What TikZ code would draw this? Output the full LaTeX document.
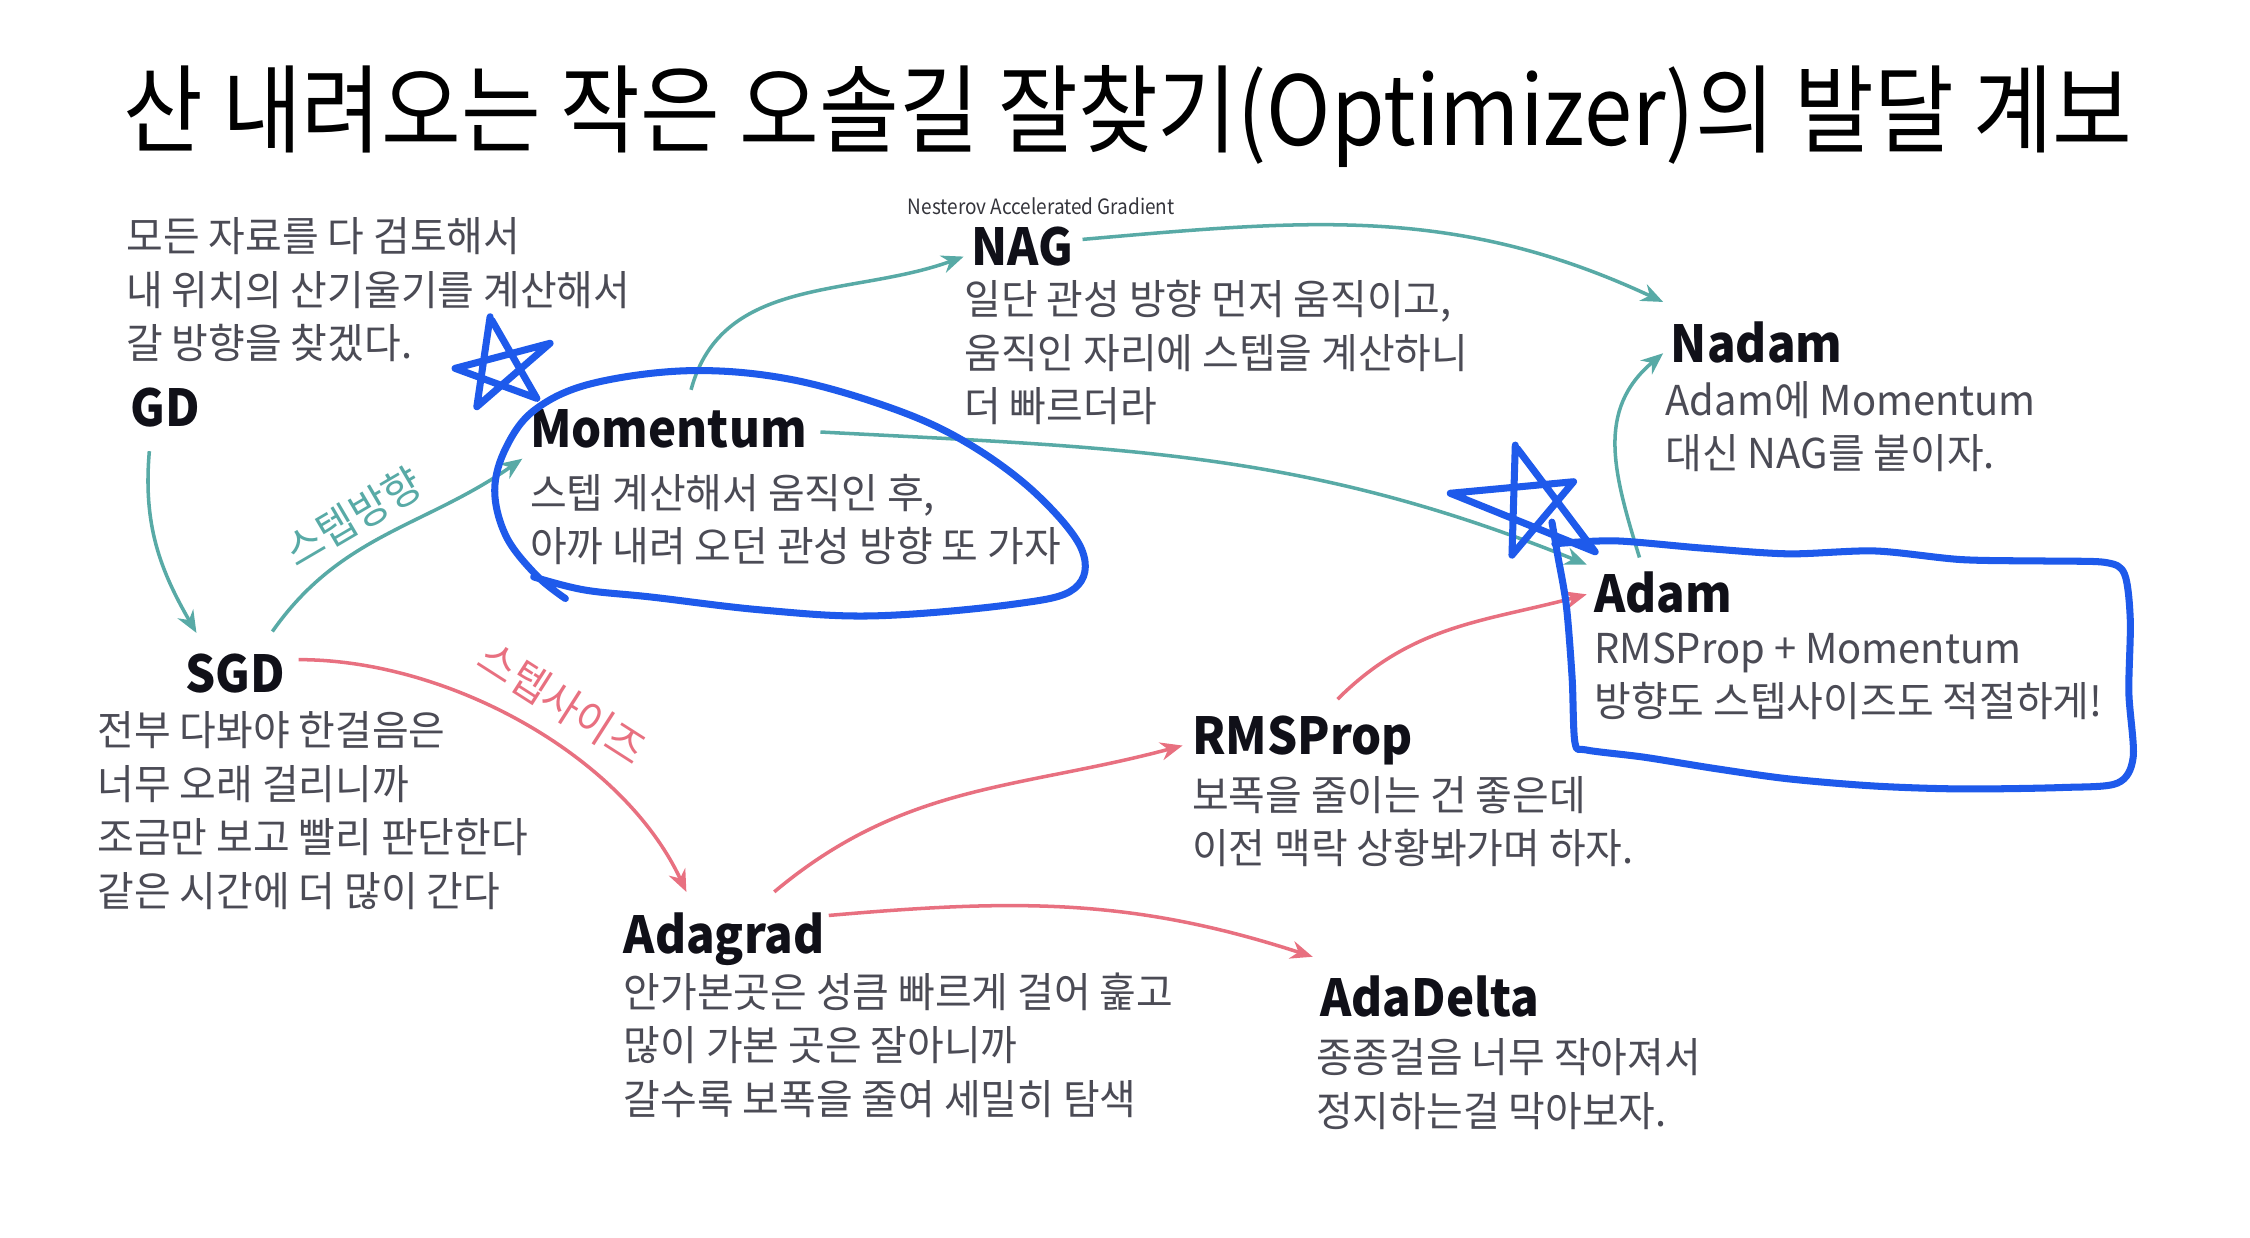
\documentclass[tikz,border=0pt]{standalone}
\usepackage{fontspec}
\setmainfont{Noto Sans CJK KR}[FakeStretch=0.97]
\newfontfamily\titlefont[FakeStretch=0.9]{Noto Sans CJK KR}
\newfontfamily\algofont[FakeStretch=0.93]{Noto Sans CJK KR}
\usetikzlibrary{arrows.meta, positioning}

\definecolor{tealline}{HTML}{58AAA6}
\definecolor{pinkline}{HTML}{E87080}
\definecolor{penblue}{HTML}{1E5AEB}
\definecolor{bodygray}{HTML}{4B4B55}
\definecolor{headblack}{HTML}{101018}

\begin{document}
\begin{tikzpicture}[
x=0.1442mm, y=0.1442mm,
algo/.style={inner sep=0pt, anchor=base west, text=headblack, font=\algofont\fontsize{14.5pt}{17pt}\selectfont\bfseries},
desc/.style={inner sep=0pt, align=left, text=bodygray, font=\fontsize{11.7pt}{15.25pt}\selectfont},
tealarrow/.style={draw=tealline, line width=1pt, -{Stealth[length=2.2mm, width=1.8mm]}},
pinkarrow/.style={draw=pinkline, line width=1pt, -{Stealth[length=2.2mm, width=1.8mm]}},
steplabel/.style={font=\fontsize{12pt}{14pt}\selectfont, sloped, above=2pt, inner sep=1pt},
pen/.style={draw=penblue, line width=2pt, line cap=round, line join=round}
]
\useasboundingbox[fill=white] (0,0) rectangle (1560,-858);

\node[font=\titlefont\fontsize{27.4pt}{31pt}\selectfont, anchor=base] (title) at (782,-101) {산 내려오는 작은 오솔길 잘찾기(Optimizer)의 발달 계보};

\node[algo] (gd) at (90,-296) {GD};
\node[desc, above right=7pt and -1.2pt of gd.north west] (gdtext) {모든 자료를 다 검토해서\\내 위치의 산기울기를 계산해서\\갈 방향을 찾겠다.};

\node[algo] (sgd) at (128,-480) {SGD};
\node[desc, below right=5.3pt and -25pt of sgd.base west] (sgdtext) {전부 다봐야 한걸음은\\너무 오래 걸리니까\\조금만 보고 빨리 판단한다\\같은 시간에 더 많이 간다};

\node[algo] (momentum) at (367,-310) {Momentum};
\node[desc, below right=7.4pt and 0pt of momentum.base west] (momtext) {스텝 계산해서 움직인 후,\\아까 내려 오던 관성 방향 또 가자};

\node[algo] (nag) at (673,-184) {NAG};
\node[inner sep=0pt, anchor=base west, text=headblack!85, font=\titlefont\fontsize{6pt}{7pt}\selectfont] (nesterov) at (629,-149) {Nesterov Accelerated Gradient};
\node[desc, below right=4pt and -2pt of nag.base west] (nagtext) {일단 관성 방향 먼저 움직이고,\\움직인 자리에 스텝을 계산하니\\더 빠르더라};

\node[algo] (nadam) at (1158,-251) {Nadam};
\node[desc, below right=5.3pt and -1.5pt of nadam.base west] (nadamtext) {Adam에 Momentum\\대신 NAG를 붙이자.};

\node[algo] (adam) at (1105,-425) {Adam};
\node[desc, below right=5.3pt and 0pt of adam.base west] (adamtext) {RMSProp + Momentum\\방향도 스텝사이즈도 적절하게!};

\node[algo] (rmsprop) at (826,-523) {RMSProp};
\node[desc, below right=6pt and 0pt of rmsprop.base west] (rmstext) {보폭을 줄이는 건 좋은데\\이전 맥락 상황봐가며 하자.};

\node[algo] (adagrad) at (432,-661) {Adagrad};
\node[desc, below right=5.3pt and 0pt of adagrad.base west] (adagradtext) {안가본곳은 성큼 빠르게 걸어 훑고\\많이 가본 곳은 잘아니까\\갈수록 보폭을 줄여 세밀히 탐색};

\node[algo] (adadelta) at (915,-705) {AdaDelta};
\node[desc, below right=6pt and -1.2pt of adadelta.base west] (adadeltatext) {종종걸음 너무 작아져서\\정지하는걸 막아보자.};

\draw[tealarrow] ([xshift=-4.5pt,yshift=-6.5pt]gd.south) to[out=265, in=120] ([xshift=-11pt,yshift=5.7pt]sgd.north);
\draw[tealarrow] ([xshift=10.6pt,yshift=6.1pt]sgd.north) to[out=55, in=215]
  node[steplabel, pos=0.43, text=tealline] {스텝방향} ([xshift=-2pt,yshift=-3.3pt]momentum.base west);
\draw[tealarrow] ([xshift=46pt,yshift=5.3pt]momentum.north west) to[out=75, in=200] ([xshift=-2pt,yshift=2.5pt]nag.base west);
\draw[tealarrow] ([xshift=2.5pt,yshift=2pt]nag.east) to[out=5, in=155] ([xshift=-2pt,yshift=5.3pt]nadam.north west);
\draw[tealarrow] ([xshift=3.7pt,yshift=-1pt]momentum.east) to[out=-3, in=158] ([xshift=-2pt,yshift=2pt]adam.north west);
\draw[tealarrow] ([xshift=13pt,yshift=4pt]adam.north west) to[out=107, in=220, looseness=1.1] ([xshift=-2pt,yshift=2.5pt]nadam.base west);

\draw[pinkarrow] ([xshift=3.7pt,yshift=3.9pt]sgd.east) to[out=0, in=115, looseness=0.85]
  node[steplabel, pos=0.54, above=4pt, text=pinkline] {스텝사이즈} ([xshift=18pt,yshift=5.7pt]adagrad.north west);
\draw[pinkarrow] ([xshift=43pt,yshift=5.7pt]adagrad.north west) to[out=40, in=195] ([xshift=-2.5pt,yshift=2.5pt]rmsprop.base west);
\draw[pinkarrow] ([xshift=10pt,yshift=4.5pt]rmsprop.north) to[out=45, in=195] ([xshift=-2pt,yshift=5.3pt]adam.base west);
\draw[pinkarrow] ([xshift=1pt,yshift=-1pt]adagrad.north east) to[out=5, in=162] ([xshift=-2pt,yshift=5.3pt]adadelta.north west);

\draw[pen] (339.8,-219.6) -- (330.6,-282) -- (381.4,-238) -- (315.5,-255.4) -- (372.2,-276.2) -- (341,-222);
\draw[pen] plot[smooth, tension=0.6] coordinates {(392,-415) (372,-399) (351,-372) (343,-340) (351,-310) (371,-284) (410,-266) (478,-257) (548,-263) (621,-284) (672,-308) (718,-342) (750,-381) (745,-408) (702,-419) (606,-427) (529,-423) (452,-414) (405,-409) (370,-400)};
\draw[pen] (1050.6,-308.6) -- (1048.3,-384.9) -- (1091,-334) -- (1005.5,-342) -- (1106,-382.6) -- (1052,-311);
\draw[pen] plot[smooth, tension=0.5] coordinates {(1076,-362) (1080,-385) (1086,-420) (1090,-470) (1092,-515) (1100,-520) (1140,-525) (1190,-533) (1240,-540) (1300,-545) (1360,-547) (1430,-546) (1468,-543) (1479,-525) (1476,-480) (1477,-430) (1473,-398) (1460,-390) (1420,-389) (1360,-388) (1300,-382) (1240,-384) (1180,-380) (1120,-375) (1078,-377)};
\end{tikzpicture}
\end{document}
